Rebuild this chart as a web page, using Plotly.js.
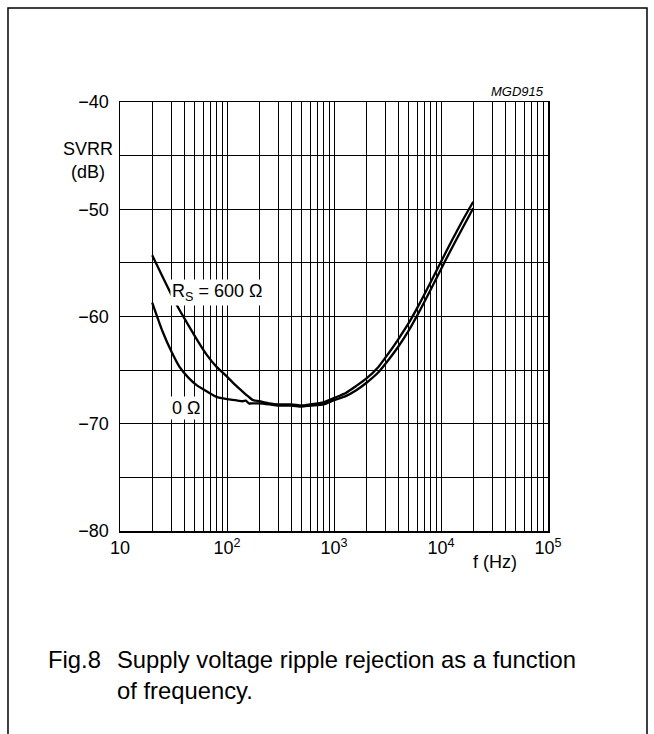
<!DOCTYPE html>
<html>
<head>
<meta charset="utf-8">
<script src="https://cdn.plot.ly/plotly-3.0.1.min.js"></script>
<style>
html,body{margin:0;padding:0;background:#fff;}
#chart{width:654px;height:734px;}
</style>
</head>
<body>
<div id="chart"></div>
<script>
// Data
const freq600 = [20, 25, 30, 36, 43.5, 52, 65, 80, 100, 120, 140, 160, 175, 200, 250, 300, 400, 500, 600, 800, 1000, 1300, 1600, 2000, 2600, 3200, 4000, 5000, 6300, 8000, 10000, 12500, 16000, 20000];
const svrr600 = [-54.3, -56.3, -57.9, -59.4, -60.8, -62.1, -63.6, -64.7, -65.6, -66.4, -67.0, -67.5, -67.8, -67.9, -68.1, -68.2, -68.2, -68.3, -68.2, -68.0, -67.6, -67.1, -66.5, -65.8, -64.7, -63.5, -62.1, -60.6, -58.8, -56.8, -54.9, -53.0, -51.0, -49.3];

const freq0 = [20, 25, 30, 36, 43.5, 52, 65, 80, 100, 120, 140, 150, 160, 175, 200, 250, 300, 400, 500, 600, 800, 1000, 1300, 1600, 2000, 2600, 3200, 4000, 5000, 6300, 8000, 10000, 12500, 16000, 20000];
const svrr0 = [-58.7, -61.4, -63.2, -64.7, -65.7, -66.4, -67.0, -67.5, -67.7, -67.8, -67.9, -67.85, -68.1, -68.1, -68.1, -68.2, -68.3, -68.3, -68.4, -68.3, -68.2, -67.8, -67.4, -66.9, -66.2, -65.2, -64.1, -62.8, -61.3, -59.5, -57.5, -55.6, -53.7, -51.7, -49.9];

const xDecades = [1, 2, 3, 4];
const xTickLabels = {10: "10", 100: "10<sup>2</sup>", 1000: "10<sup>3</sup>", 10000: "10<sup>4</sup>", 100000: "10<sup>5</sup>"};
const yTickVals = [-80, -75, -70, -65, -60, -55, -50, -45, -40];
const yTickLabels = {"-80": "\u221280", "-70": "\u221270", "-60": "\u221260", "-50": "\u221250", "-40": "\u221240"};

const xTickVals = [];
const xTickText = [];
xDecades.forEach(d => {
  for (let m = 1; m <= 9; m++) {
    const v = m * Math.pow(10, d);
    xTickVals.push(v);
    xTickText.push(xTickLabels[v] || "");
  }
});
xTickVals.push(100000);
xTickText.push(xTickLabels[100000]);
const yTickText = yTickVals.map(v => yTickLabels[String(v)] || "");

const FONT = "Liberation Sans, Arial, Helvetica, sans-serif";

const traces = [
  {x: freq600, y: svrr600, mode: "lines", line: {color: "#000", width: 2.3, shape: "spline", smoothing: 0.6}, hoverinfo: "skip", showlegend: false},
  {x: freq0, y: svrr0, mode: "lines", line: {color: "#000", width: 2.3, shape: "spline", smoothing: 0.6}, hoverinfo: "skip", showlegend: false}
];

const layout = {
  width: 654, height: 734,
  margin: {l: 120, r: 106, t: 102, b: 203, pad: 0},
  paper_bgcolor: "#fff", plot_bgcolor: "#fff",
  font: {family: FONT, color: "#000", size: 18},
  xaxis: {
    type: "log", range: [1, 5],
    tickmode: "array", tickvals: xTickVals, ticktext: xTickText,
    showgrid: true, gridcolor: "#000", gridwidth: 1,
    showline: true, mirror: true, linecolor: "#000", linewidth: 1.5,
    ticks: "", zeroline: false, tickangle: 0,
    tickfont: {size: 18, family: FONT, color: "#000"}
  },
  yaxis: {
    range: [-80, -40],
    tickmode: "array", tickvals: yTickVals, ticktext: yTickText,
    showgrid: true, gridcolor: "#000", gridwidth: 1,
    showline: true, mirror: true, linecolor: "#000", linewidth: 1.5,
    ticks: "", zeroline: false, ticklabelstandoff: 6,
    tickfont: {size: 18, family: FONT, color: "#000"}
  },
  shapes: [
    {type: "path", xref: "paper", yref: "paper",
     path: "M -0.2617,-0.475 L -0.2617,1.2191 L 1.2313,1.2191 L 1.2313,-0.475",
     line: {color: "#000", width: 1.5}, fillcolor: "rgba(0,0,0,0)"}
  ],
  annotations: [
    {text: "SVRR<br>(dB)", xref: "paper", yref: "paper", x: -0.075, y: 0.8625, xanchor: "center", yanchor: "middle", showarrow: false, align: "center", font: {size: 18, family: FONT}},
    {text: "f (Hz)", xref: "paper", yref: "paper", x: 0.876, y: -0.0723, xanchor: "center", yanchor: "middle", showarrow: false, font: {size: 18, family: FONT}},
    {text: "MGD915", xref: "paper", yref: "paper", x: 0.9953, y: 1.0256, xanchor: "right", yanchor: "middle", showarrow: false, font: {size: 13, family: FONT, style: "italic"}},
    {text: "R<sub>S</sub> = 600 \u03A9", xref: "paper", yref: "paper", x: 0.117, y: 0.556, xanchor: "left", yanchor: "middle", showarrow: false, bgcolor: "#fff", borderpad: 1, font: {size: 18, family: FONT}},
    {text: "0 \u03A9", xref: "paper", yref: "paper", x: 0.117, y: 0.2867, xanchor: "left", yanchor: "middle", showarrow: false, bgcolor: "#fff", borderpad: 1, font: {size: 18, family: FONT}},
    {text: "Fig.8", xref: "paper", yref: "paper", x: -0.1729, y: -0.2984, xanchor: "left", yanchor: "middle", showarrow: false, font: {size: 23.8, family: FONT}},
    {text: "Supply voltage ripple rejection as a function<br>of frequency.", xref: "paper", yref: "paper", x: -0.0107, y: -0.3345, xanchor: "left", yanchor: "middle", showarrow: false, align: "left", font: {size: 23.8, family: FONT}}
  ]
};

Plotly.newPlot("chart", traces, layout, {staticPlot: true, displayModeBar: false});
</script>
</body>
</html>
